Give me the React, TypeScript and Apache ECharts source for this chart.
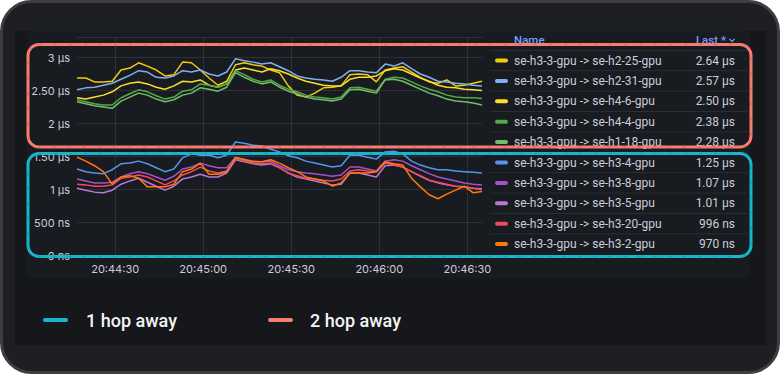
import React, { useEffect, useRef } from "react";
import * as echarts from "echarts";

// ---- data ----
const TIMES = [
  "20:44:17", "20:44:20", "20:44:23", "20:44:26", "20:44:29", "20:44:32", "20:44:35", "20:44:38",
  "20:44:41", "20:44:44", "20:44:47", "20:44:50", "20:44:53", "20:44:56", "20:44:59", "20:45:02",
  "20:45:05", "20:45:08", "20:45:11", "20:45:14", "20:45:17", "20:45:20", "20:45:23", "20:45:26",
  "20:45:29", "20:45:32", "20:45:35", "20:45:38", "20:45:41", "20:45:44", "20:45:47", "20:45:50",
  "20:45:53", "20:45:56", "20:45:59", "20:46:02", "20:46:05", "20:46:08", "20:46:11", "20:46:14",
  "20:46:17", "20:46:20", "20:46:23", "20:46:26", "20:46:29", "20:46:32", "20:46:35",
];
const X_TICKS = ["20:44:30", "20:45:00", "20:45:30", "20:46:00", "20:46:30"];

// values in microseconds
const H2_25 = [2.69, 2.69, 2.63, 2.63, 2.64, 2.81, 2.84, 2.92, 2.87, 2.81, 2.72, 2.74, 2.93, 2.92, 2.81, 2.69,
  2.58, 2.64, 2.89, 2.92, 2.89, 2.87, 2.81, 2.77, 2.57, 2.43, 2.40, 2.46, 2.54, 2.55, 2.57, 2.74,
  2.75, 2.74, 2.63, 2.81, 2.84, 2.86, 2.78, 2.70, 2.63, 2.61, 2.66, 2.57, 2.58, 2.61, 2.64];
const H2_31 = [2.51, 2.54, 2.55, 2.58, 2.61, 2.67, 2.73, 2.80, 2.78, 2.70, 2.69, 2.72, 2.80, 2.78, 2.81, 2.75,
  2.72, 2.78, 2.98, 2.95, 2.93, 2.90, 2.92, 2.86, 2.80, 2.72, 2.69, 2.67, 2.66, 2.64, 2.70, 2.80,
  2.80, 2.78, 2.77, 2.90, 2.87, 2.92, 2.83, 2.75, 2.70, 2.64, 2.63, 2.61, 2.60, 2.58, 2.57];
const H4_6 = [2.39, 2.37, 2.40, 2.43, 2.48, 2.57, 2.61, 2.63, 2.60, 2.55, 2.52, 2.57, 2.64, 2.63, 2.66, 2.58,
  2.55, 2.60, 2.81, 2.84, 2.81, 2.78, 2.83, 2.80, 2.75, 2.69, 2.64, 2.61, 2.58, 2.57, 2.57, 2.67,
  2.70, 2.70, 2.72, 2.80, 2.83, 2.81, 2.75, 2.69, 2.64, 2.58, 2.55, 2.54, 2.52, 2.51, 2.50];
const H4_4 = [2.36, 2.33, 2.30, 2.28, 2.28, 2.39, 2.45, 2.51, 2.48, 2.42, 2.37, 2.40, 2.49, 2.51, 2.60, 2.58,
  2.55, 2.60, 2.80, 2.74, 2.67, 2.63, 2.66, 2.58, 2.52, 2.48, 2.43, 2.40, 2.39, 2.37, 2.40, 2.54,
  2.55, 2.52, 2.49, 2.67, 2.70, 2.69, 2.63, 2.57, 2.52, 2.48, 2.43, 2.40, 2.39, 2.39, 2.38];
const H1_18 = [2.33, 2.30, 2.27, 2.25, 2.23, 2.34, 2.40, 2.46, 2.43, 2.37, 2.33, 2.36, 2.43, 2.46, 2.54, 2.52,
  2.49, 2.55, 2.77, 2.70, 2.64, 2.60, 2.63, 2.55, 2.49, 2.45, 2.40, 2.37, 2.36, 2.34, 2.37, 2.51,
  2.52, 2.49, 2.46, 2.66, 2.67, 2.64, 2.58, 2.52, 2.46, 2.42, 2.37, 2.34, 2.33, 2.31, 2.28];
const H3_4 = [1.31, 1.27, 1.25, 1.24, 1.30, 1.39, 1.40, 1.43, 1.39, 1.33, 1.27, 1.31, 1.48, 1.54, 1.52, 1.52,
  1.48, 1.52, 1.72, 1.70, 1.67, 1.66, 1.61, 1.57, 1.51, 1.48, 1.43, 1.40, 1.37, 1.34, 1.36, 1.52,
  1.52, 1.49, 1.46, 1.57, 1.58, 1.54, 1.43, 1.37, 1.33, 1.30, 1.30, 1.28, 1.27, 1.26, 1.25];
const H3_8 = [1.16, 1.13, 1.10, 1.10, 1.11, 1.19, 1.24, 1.27, 1.24, 1.19, 1.14, 1.20, 1.31, 1.34, 1.40, 1.36,
  1.33, 1.33, 1.49, 1.46, 1.43, 1.42, 1.43, 1.36, 1.30, 1.27, 1.25, 1.24, 1.22, 1.20, 1.22, 1.34,
  1.34, 1.31, 1.28, 1.43, 1.45, 1.43, 1.36, 1.30, 1.24, 1.19, 1.16, 1.13, 1.10, 1.08, 1.07];
const H3_5 = [1.02, 0.99, 0.96, 0.95, 0.99, 1.08, 1.13, 1.17, 1.11, 1.05, 0.99, 1.05, 1.16, 1.19, 1.23, 1.19,
  1.19, 1.25, 1.45, 1.42, 1.39, 1.37, 1.39, 1.33, 1.25, 1.19, 1.16, 1.13, 1.10, 1.07, 1.08, 1.25,
  1.25, 1.22, 1.19, 1.36, 1.37, 1.34, 1.27, 1.20, 1.14, 1.10, 1.07, 1.05, 1.04, 1.02, 1.01];
const H3_20 = [1.08, 1.07, 1.05, 1.05, 1.07, 1.17, 1.19, 1.22, 1.19, 1.13, 1.07, 1.13, 1.22, 1.27, 1.34, 1.28,
  1.25, 1.28, 1.46, 1.43, 1.40, 1.39, 1.40, 1.33, 1.25, 1.21, 1.17, 1.16, 1.14, 1.13, 1.16, 1.28,
  1.30, 1.28, 1.27, 1.40, 1.37, 1.34, 1.27, 1.21, 1.14, 1.11, 1.08, 1.05, 1.04, 1.02, 0.996];
const H3_2 = [1.49, 1.43, 1.36, 1.27, 1.08, 1.19, 1.21, 1.17, 1.04, 1.04, 1.04, 1.08, 1.27, 1.31, 1.40, 1.23,
  1.23, 1.27, 1.48, 1.45, 1.42, 1.42, 1.45, 1.40, 1.33, 1.27, 1.19, 1.16, 1.13, 1.05, 1.10, 1.25,
  1.25, 1.25, 1.27, 1.42, 1.39, 1.37, 1.17, 1.04, 0.92, 0.86, 0.93, 0.99, 1.05, 0.95, 0.97];

const SERIES_NAMES = [
  "se-h3-3-gpu -> se-h2-25-gpu",
  "se-h3-3-gpu -> se-h2-31-gpu",
  "se-h3-3-gpu -> se-h4-6-gpu",
  "se-h3-3-gpu -> se-h4-4-gpu",
  "se-h3-3-gpu -> se-h1-18-gpu",
  "se-h3-3-gpu -> se-h3-4-gpu",
  "se-h3-3-gpu -> se-h3-8-gpu",
  "se-h3-3-gpu -> se-h3-5-gpu",
  "se-h3-3-gpu -> se-h3-20-gpu",
  "se-h3-3-gpu -> se-h3-2-gpu",
];
const SERIES_VALUES = [H2_25, H2_31, H4_6, H4_4, H1_18, H3_4, H3_8, H3_5, H3_20, H3_2];
const Y_MIN = 0;
const Y_MAX = 3.3;
const Y_STEP = 0.5;
const GROUP_LABELS = ["1 hop away", "2 hop away"];

// ---- styles ----
const SERIES_COLORS = [
  "#f2cc0c", "#7fb0f2", "#fade2a", "#56a64b", "#73bf69",
  "#5794f2", "#a352cc", "#b877d9", "#f2495c", "#ff780a",
];
const TEXT = "#ccccdc";
const GRID_LINE = "rgba(204,204,220,0.12)";
const SALMON = "#f87c6f";
const TEAL = "#17b6c8";

// seconds of the day
function sec(t: string): number {
  const [h, m, s] = t.split(":").map(Number);
  return h * 3600 + m * 60 + s;
}
function pad(n: number) {
  return n < 10 ? "0" + n : "" + n;
}
function fmtTime(v: number): string {
  const r = Math.round(v);
  const h = Math.floor(r / 3600);
  const m = Math.floor((r % 3600) / 60);
  const s = r % 60;
  return pad(h) + ":" + pad(m) + ":" + pad(s);
}
function fmtAxis(v: number): string {
  const r = Math.round(v * 1000) / 1000;
  if (r === 0) return "0 ns";
  if (r < 1) return Math.round(r * 1000) + " ns";
  if (Number.isInteger(r)) return r + " µs";
  return r.toFixed(2) + " µs";
}
function fmtLast(v: number): string {
  if (v < 1) return Math.round(v * 1000) + " ns";
  return v.toFixed(2) + " µs";
}

export default function App() {
  const ref = useRef<HTMLDivElement>(null);
  useEffect(() => {
    document.body.style.margin = "0";
    if (!ref.current) return;
    const chart = echarts.init(ref.current, null, { renderer: "svg" });

    const series = SERIES_VALUES.map((vals, i) => ({
      name: SERIES_NAMES[i],
      type: "line",
      showSymbol: false,
      symbol: "none",
      z: 3,
      lineStyle: { width: 1.5, color: SERIES_COLORS[i] },
      itemStyle: { color: SERIES_COLORS[i] },
      data: vals.map((v, j) => [sec(TIMES[j]), v]),
    }));

    const g: any[] = [];
    // outer frame & backgrounds
    g.push({ type: "rect", z: -100, silent: true, shape: { x: 1.5, y: 1.5, width: 777, height: 371, r: 30 },
      style: { fill: "#1d1f23", stroke: "#3c3e42", lineWidth: 3 } });
    g.push({ type: "rect", z: -99, silent: true, shape: { x: 15, y: 31, width: 751, height: 314 },
      style: { fill: "#15171a" } });
    g.push({ type: "rect", z: -98, silent: true, shape: { x: 27, y: 31, width: 723, height: 247, r: 5 },
      style: { fill: "#181b1f" } });

    // legend table
    const tx = 514, vx = 735, mx = 495;
    const tableFont = "12px Roboto";
    g.push({ type: "text", z: 50, style: { x: tx, y: 40, text: "Name", fill: "#6e9fff", font: "500 11.5px Roboto", textVerticalAlign: "middle" } });
    g.push({ type: "text", z: 50, style: { x: 726, y: 40, text: "Last *", fill: "#6e9fff", font: "500 11.5px Roboto", textAlign: "right", textVerticalAlign: "middle" } });
    g.push({ type: "polyline", z: 50, shape: { points: [[729.5, 39], [732, 41.5], [734.5, 39]] }, style: { stroke: "#6e9fff", lineWidth: 1.2, fill: null } });
    g.push({ type: "line", z: 50, shape: { x1: 490, y1: 50.5, x2: 748, y2: 50.5 }, style: { stroke: "#2a2d33", lineWidth: 1 } });
    SERIES_NAMES.forEach((name, i) => {
      const y = 60.5 + i * 20.4;
      const vals = SERIES_VALUES[i];
      g.push({ type: "rect", z: 50, shape: { x: mx, y: y - 2, width: 13, height: 4, r: 2 }, style: { fill: SERIES_COLORS[i] } });
      g.push({ type: "text", z: 50, style: { x: tx, y, text: name, fill: TEXT, font: tableFont, textVerticalAlign: "middle" } });
      g.push({ type: "text", z: 50, style: { x: vx, y, text: fmtLast(vals[vals.length - 1]), fill: TEXT, font: tableFont, textAlign: "right", textVerticalAlign: "middle" } });
      if (i < SERIES_NAMES.length - 1) {
        g.push({ type: "line", z: 50, shape: { x1: 490, y1: y + 10.2, x2: 748, y2: y + 10.2 }, style: { stroke: "#2a2d33", lineWidth: 1 } });
      }
    });

    // annotation boxes
    const boxes = [
      { y: 44.5, h: 102.5, c: SALMON, d: "#b95a50" },
      { y: 153.5, h: 103, c: TEAL, d: "#128b99" },
    ];
    boxes.forEach((b) => {
      g.push({ type: "rect", z: 100, silent: true, shape: { x: 28, y: b.y, width: 723, height: b.h, r: 11 },
        style: { fill: null, stroke: b.c, lineWidth: 3 } });
      g.push({ type: "rect", z: 101, silent: true, shape: { x: 28, y: b.y, width: 723, height: b.h, r: 11 },
        style: { fill: null, stroke: b.d, lineWidth: 1, lineDash: [3, 12], opacity: 0.6 } });
    });

    // bottom legend
    const legendItems = [
      { lx: 45, tx: 86, c: TEAL },
      { lx: 270, tx: 310, c: SALMON },
    ];
    legendItems.forEach((it, i) => {
      g.push({ type: "line", z: 50, shape: { x1: it.lx, y1: 320, x2: it.lx + 21, y2: 320 }, style: { stroke: it.c, lineWidth: 4, lineCap: "round" } });
      g.push({ type: "text", z: 50, style: { x: it.tx, y: 320, text: GROUP_LABELS[i], fill: "#f4f4f4", font: "500 18px Roboto", textVerticalAlign: "middle" } });
    });

    const tickValues = X_TICKS.map(sec);
    const option: any = {
      animation: false,
      backgroundColor: "#ffffff",
      textStyle: { fontFamily: "Inter" },
      grid: { left: 77, right: 298, top: 37.7, bottom: 119.5, containLabel: false },
      xAxis: {
        type: "value",
        min: sec(TIMES[0]),
        max: sec(TIMES[TIMES.length - 1]),
        axisLine: { show: false },
        axisTick: { show: false, customValues: tickValues },
        splitLine: { show: true, lineStyle: { color: GRID_LINE, width: 1 } },
        axisLabel: { color: TEXT, fontSize: 11, fontFamily: "Inter", margin: 8, customValues: tickValues, formatter: (v: number) => fmtTime(v) },
      },
      yAxis: {
        type: "value",
        min: Y_MIN,
        max: Y_MAX,
        interval: Y_STEP,
        axisLine: { show: false },
        axisTick: { show: false },
        splitLine: { show: true, lineStyle: { color: GRID_LINE, width: 1 } },
        axisLabel: { color: TEXT, fontSize: 11, fontFamily: "Inter", margin: 7, formatter: (v: number) => fmtAxis(v), showMaxLabel: false },
      },
      series,
      graphic: { elements: g },
    };
    chart.setOption(option);
    return () => chart.dispose();
  }, []);
  return <div ref={ref} style={{ width: 780, height: 375 }} />;
}
